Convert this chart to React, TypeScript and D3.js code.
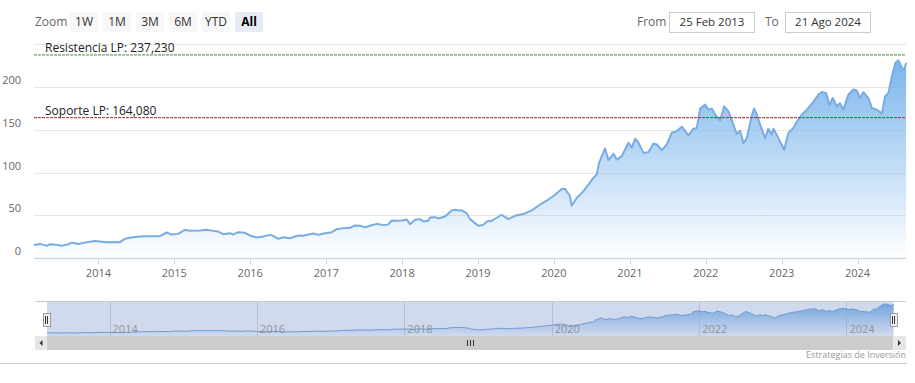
import React from "react";
import * as d3 from "d3";

// ---- data (decimal year -> price) ----
const yearFrac = [
  2013.152, 2013.229, 2013.318, 2013.361, 2013.47, 2013.515, 2013.602, 2013.647, 2013.734, 2013.845, 2013.954,
  2014.02, 2014.108, 2014.217, 2014.283, 2014.349, 2014.458, 2014.547, 2014.635, 2014.81, 2014.899, 2014.964,
  2015.051, 2015.14, 2015.206, 2015.337, 2015.426, 2015.513, 2015.578, 2015.644, 2015.733, 2015.776, 2015.842, 2015.93, 2015.996,
  2016.084, 2016.171, 2016.259, 2016.303, 2016.369, 2016.435, 2016.523, 2016.632, 2016.698, 2016.764, 2016.83, 2016.896, 2016.984,
  2017.072, 2017.138, 2017.225, 2017.314, 2017.379, 2017.445, 2017.511, 2017.577, 2017.665, 2017.752, 2017.818, 2017.863, 2017.929, 2017.995,
  2018.061, 2018.104, 2018.17, 2018.236, 2018.279, 2018.345, 2018.368, 2018.434, 2018.477, 2018.565, 2018.654, 2018.697, 2018.74, 2018.785, 2018.851, 2018.895,
  2019.004, 2019.07, 2019.115, 2019.181, 2019.312, 2019.399, 2019.487, 2019.597, 2019.708, 2019.817, 2019.905,
  2020.015, 2020.103, 2020.146, 2020.212, 2020.234, 2020.3, 2020.387, 2020.453, 2020.519, 2020.564, 2020.594, 2020.63, 2020.673, 2020.717, 2020.783, 2020.827, 2020.893, 2020.98,
  2021.025, 2021.069, 2021.112, 2021.178, 2021.244, 2021.31, 2021.354, 2021.42, 2021.486, 2021.552, 2021.618, 2021.684, 2021.771, 2021.837, 2021.881, 2021.925, 2021.991,
  2022.034, 2022.079, 2022.123, 2022.188, 2022.241, 2022.298, 2022.364, 2022.408, 2022.452, 2022.495, 2022.54, 2022.606, 2022.636, 2022.672, 2022.715, 2022.781, 2022.825, 2022.869, 2022.891, 2022.957,
  2023.001, 2023.032, 2023.088, 2023.154, 2023.207, 2023.265, 2023.331, 2023.397, 2023.484, 2023.529, 2023.585, 2023.629, 2023.673, 2023.726, 2023.769, 2023.813, 2023.879, 2023.945, 2023.99,
  2024.033, 2024.076, 2024.142, 2024.187, 2024.253, 2024.319, 2024.362, 2024.406, 2024.451, 2024.497, 2024.537, 2024.582, 2024.613, 2024.638,
];
const price = [
  15.4, 16.8, 14.5, 16.4, 15.6, 14.5, 16.4, 18.4, 16.8, 18.8, 20.3,
  19.5, 18.8, 19.1, 18.8, 22.7, 24.6, 25.4, 25.8, 25.8, 30.1, 27.7,
  28.5, 33.2, 32.0, 32.4, 33.2, 32.0, 31.2, 28.1, 29.3, 27.7, 30.5, 29.7, 26.6,
  24.2, 25.4, 27.3, 26.2, 22.7, 24.6, 23.4, 26.6, 26.2, 27.7, 28.9, 27.3, 29.3,
  30.5, 34.0, 35.2, 35.5, 38.3, 37.9, 36.3, 37.9, 40.2, 38.7, 39.5, 44.1, 43.8, 44.1,
  45.3, 39.8, 44.9, 45.7, 43.0, 43.8, 47.7, 48.0, 46.5, 48.8, 55.9, 56.6, 55.9, 56.0, 52.7, 45.7,
  37.9, 39.0, 43.0, 43.8, 50.8, 45.7, 49.6, 51.6, 55.9, 62.5, 67.2,
  74.2, 80.9, 81.2, 72.3, 61.3, 70.3, 78.1, 85.9, 93.8, 97.7, 111.3, 119.1, 128.1, 114.5, 121.9, 115.2, 119.1, 134.8,
  129.0, 139.5, 134.8, 123.0, 123.8, 134.0, 132.8, 126.2, 133.0, 146.5, 148.4, 153.5, 143.4, 151.2, 152.0, 174.6, 179.3,
  173.4, 174.6, 167.6, 160.5, 177.3, 171.5, 155.9, 144.9, 148.8, 134.4, 140.0, 166.4, 174.6, 167.6, 155.9, 140.2, 151.2, 144.1, 151.2, 140.2,
  132.4, 126.6, 146.1, 152.0, 160.5, 167.6, 173.4, 180.0, 191.0, 194.1, 193.0, 179.3, 187.0, 177.3, 181.0, 173.4, 191.0, 196.9, 195.7,
  187.0, 193.7, 187.0, 175.4, 173.4, 168.8, 189.0, 193.0, 212.5, 228.0, 230.9, 222.3, 220.3, 228.0,
];

const yTicks = [0, 50, 100, 150, 200, 250];
const yearTicks = [2014, 2015, 2016, 2017, 2018, 2019, 2020, 2021, 2022, 2023, 2024];
const navYearTicks = [2014, 2016, 2018, 2020, 2022, 2024];
const zoomButtons = ["1W", "1M", "3M", "6M", "YTD", "All"];
const resistencia = 237.23;
const soporte = 164.08;
const fromText = "25 Feb 2013";
const toText = "21 Ago 2024";

const startDate = new Date(Date.UTC(2013, 1, 25));
const endDate = new Date(Date.UTC(2024, 7, 21));

function fracToDate(f: number) {
  const y = Math.floor(f);
  const a = Date.UTC(y, 0, 1);
  const b = Date.UTC(y + 1, 0, 1);
  return new Date(a + (f - y) * (b - a));
}

const data = yearFrac.map((f, i) => ({ d: fracToDate(f), v: price[i] }));

const FONT = "'Open Sans', 'Noto Sans', sans-serif";

export default function App() {
  const W = 915, H = 383;
  const x = d3.scaleUtc().domain([startDate, endDate]).range([34, 906]);
  const y = d3.scaleLinear().domain([0, 250]).range([258.3, 44]);
  const xn = d3.scaleUtc().domain([startDate, endDate]).range([47, 893.5]);
  const ext = d3.extent(price) as [number, number];
  const pad = (ext[1] - ext[0]) * 0.1;
  const yn = d3.scaleLinear().domain([ext[0] - pad, ext[1] + pad]).range([336, 301]);

  const area = d3.area<any>().x((d) => x(d.d)).y0(y(0)).y1((d) => y(d.v));
  const line = d3.line<any>().x((d) => x(d.d)).y((d) => y(d.v));
  const navArea = d3.area<any>().x((d) => xn(d.d)).y0(336).y1((d) => yn(d.v));
  const navLine = d3.line<any>().x((d) => xn(d.d)).y((d) => yn(d.v));

  const yr = (v: number) => new Date(Date.UTC(v, 0, 1));

  return (
    <svg width={W} height={H} style={{ position: "absolute", left: 0, top: 0, fontFamily: FONT }}>
      <defs>
        <linearGradient id="g1" x1="0" y1="0" x2="0" y2="1">
          <stop offset="0" stopColor="#7cb5ec" stopOpacity={1} />
          <stop offset="1" stopColor="#7cb5ec" stopOpacity={0} />
        </linearGradient>
        <linearGradient id="g2" x1="0" y1="0" x2="0" y2="1">
          <stop offset="0" stopColor="#7cb5ec" stopOpacity={1} />
          <stop offset="1" stopColor="#7cb5ec" stopOpacity={0} />
        </linearGradient>
      </defs>
      <rect width={W} height={H} fill="#fff" />

      {/* range selector */}
      <text x={35} y={26} fontSize={12} fill="#666">Zoom</text>
      {zoomButtons.map((b, i) => {
        const bx = 70 + i * 33;
        const sel = b === "All";
        return (
          <g key={b}>
            <rect x={bx} y={12} width={28} height={20} fill={sel ? "#e6ebf5" : "#f7f7f7"} />
            <text x={bx + 14} y={26} fontSize={12} textAnchor="middle" fill={sel ? "#000" : "#333"} fontWeight={sel ? "bold" : "normal"}>{b}</text>
          </g>
        );
      })}
      <text x={637} y={26} fontSize={12} fill="#666">From</text>
      <rect x={669.5} y={12.5} width={85} height={20} fill="#fff" stroke="#ccc" />
      <text x={712} y={26} fontSize={11.5} textAnchor="middle" fill="#333">{fromText}</text>
      <text x={765} y={26} fontSize={12} fill="#666">To</text>
      <rect x={785.5} y={12.5} width={85} height={20} fill="#fff" stroke="#ccc" />
      <text x={828} y={26} fontSize={11.5} textAnchor="middle" fill="#333">{toText}</text>

      {/* grid */}
      {yTicks.map((t) => (
        <g key={t}>
          <line x1={34} x2={906} y1={Math.round(y(t)) + 0.5} y2={Math.round(y(t)) + 0.5} stroke={t === 0 ? "none" : "#e6e6e6"} />
          {t !== 250 && (
            <text x={21} y={y(t) - 3} fontSize={11} textAnchor="end" fill="#666">{t}</text>
          )}
        </g>
      ))}

      {/* series */}
      <path d={area(data) || ""} fill="url(#g1)" />
      <path d={line(data) || ""} fill="none" stroke="#78acE2" strokeWidth={2} strokeLinejoin="round" />

      {/* x axis */}
      <line x1={34} x2={906} y1={258.5} y2={258.5} stroke="#ccd6eb" strokeWidth={1.5} />
      {yearTicks.map((t) => (
        <g key={t}>
          <line x1={Math.round(x(yr(t))) + 0.5} x2={Math.round(x(yr(t))) + 0.5} y1={259} y2={264} stroke="#ccd6eb" />
          <text x={x(yr(t))} y={277} fontSize={11} textAnchor="middle" fill="#666">{t}</text>
        </g>
      ))}

      {/* plot lines */}
      <line x1={34} x2={906} y1={y(resistencia)} y2={y(resistencia)} stroke="#3f8f3f" strokeDasharray="3,1" strokeWidth={1} />
      <text x={45} y={y(resistencia) - 3} fontSize={12} fill="#222">Resistencia LP: 237,230</text>
      <line x1={34} x2={906} y1={y(soporte)} y2={y(soporte)} stroke="#a52a2a" strokeDasharray="3,1" strokeWidth={1} />
      <text x={45} y={y(soporte) - 3} fontSize={12} fill="#222">Soporte LP: 164,080</text>

      {/* navigator */}
      {navYearTicks.map((t) => (
        <g key={t}>
          <line x1={Math.round(xn(yr(t))) + 0.5} x2={Math.round(xn(yr(t))) + 0.5} y1={301} y2={336} stroke="#d8d8d8" />
        </g>
      ))}
      <path d={navArea(data) || ""} fill="url(#g2)" />
      <path d={navLine(data) || ""} fill="none" stroke="#6fa5dc" strokeWidth={1} />
      <rect x={47} y={301} width={846.5} height={35} fill="rgba(102,133,194,0.3)" />
      {navYearTicks.map((t) => (
        <text key={t} x={xn(yr(t)) + 3} y={333} fontSize={11} fill="#888" opacity={0.85}>{t}</text>
      ))}
      <line x1={35} x2={906} y1={301.5} y2={301.5} stroke="#cccccc" />
      {[47, 893.5].map((hx, i) => (
        <g key={i}>
          <rect x={Math.round(hx) - 3.5} y={313.5} width={7} height={13} fill="#f2f2f2" stroke="#999" />
          <line x1={Math.round(hx) - 1.5} x2={Math.round(hx) - 1.5} y1={316} y2={324} stroke="#333" />
          <line x1={Math.round(hx) + 0.5} x2={Math.round(hx) + 0.5} y1={316} y2={324} stroke="#333" />
        </g>
      ))}

      {/* scrollbar */}
      <rect x={35} y={336} width={871} height={14} fill="#f2f2f2" />
      <rect x={47} y={336} width={846} height={14} fill="#cccccc" />
      <rect x={35} y={336} width={12} height={14} fill="#e6e6e6" />
      <rect x={893.5} y={336} width={12.5} height={14} fill="#e6e6e6" />
      <path d="M39.5,343 L42.5,340 L42.5,346 Z" fill="#333" />
      <path d="M901,343 L898,340 L898,346 Z" fill="#333" />
      {[-3, 0, 3].map((o) => (
        <line key={o} x1={470.5 + o} x2={470.5 + o} y1={340} y2={346} stroke="#333" />
      ))}

      {/* credits and bottom line */}
      <text x={906} y={358} fontSize={9} textAnchor="end" fill="#999">Estrategias de Inversión</text>
      <line x1={0} x2={907} y1={363.5} y2={363.5} stroke="#cccccc" />
    </svg>
  );
}
